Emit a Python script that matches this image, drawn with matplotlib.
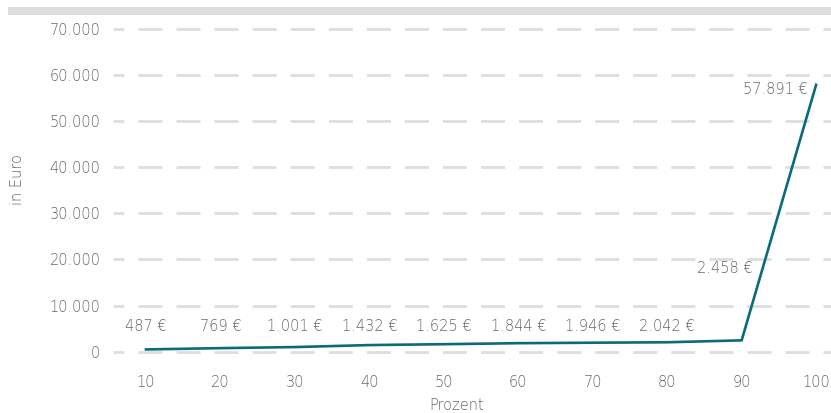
import matplotlib.pyplot as plt
from matplotlib.patches import Rectangle

# Einkommensverteilung nach Perzentil
prozent = [10, 20, 30, 40, 50, 60, 70, 80, 90, 100]
euro = [487, 769, 1001, 1432, 1625, 1844, 1946, 2042, 2458, 57891]
y_ticks = [0, 10000, 20000, 30000, 40000, 50000, 60000, 70000]

LINE = "#0b6b7c"
TEXT = "#666666"
GRID = "#dedede"
FS = 10.5

plt.rcParams['font.family'] = ['DejaVu Sans']
plt.rcParams['font.weight'] = 'light'
plt.rcParams['axes.labelweight'] = 'light'
plt.rcParams['lines.scale_dashes'] = False


def fmt(v):
    return f"{v:,.0f}".replace(",", ".")


fig = plt.figure(figsize=(8.31, 4.13), dpi=100)
fig.patches.append(Rectangle((8 / 831, 1 - 14.5 / 413), 823 / 831, 7.5 / 413,
                             transform=fig.transFigure, color=GRID, lw=0))

ax = fig.add_axes([113 / 831, 52.1 / 413, 718 / 831, 341.1 / 413])
ax.set_xlim(5.57, 102.0)
ax.set_ylim(-2000, 72000)

for t in y_ticks:
    ax.axhline(t, color=GRID, lw=2.0, linestyle=(9.4, (17.3, 10.1)),
               dash_capstyle='butt', zorder=0)

ax.plot(prozent, euro, color=LINE, lw=1.9, solid_joinstyle='miter', zorder=3)

# Beschriftung der Werte
for x, v in zip(prozent[:8], euro[:8]):
    ax.text(x, 5360, f"{fmt(v)} €", ha='center', va='center', color=TEXT, fontsize=FS)
ax.annotate(f"{fmt(euro[8])} €", (prozent[8], euro[8]), xytext=(8, 52),
            textcoords='offset points', ha='right', va='center', color=TEXT, fontsize=FS)
ax.annotate(f"{fmt(euro[9])} €", (prozent[9], euro[9]), xytext=(-6, -3),
            textcoords='offset points', ha='right', va='center', color=TEXT, fontsize=FS)

ax.set_xticks(prozent)
ax.set_xticklabels([str(p) for p in prozent])
ax.set_yticks(y_ticks)
ax.set_yticklabels([fmt(t) for t in y_ticks])
ax.tick_params(length=0, labelsize=FS, labelcolor=TEXT)
ax.tick_params(axis='x', pad=10)
ax.tick_params(axis='y', pad=9)
for s in ax.spines.values():
    s.set_visible(False)

ax.set_xlabel("Prozent", color=TEXT, fontsize=FS)
ax.set_ylabel("in Euro", color=TEXT, fontsize=FS)
ax.xaxis.set_label_coords((457 - 113) / 718, -(405 - 360.9) / 341.1)
ax.xaxis.label.set_va('center')
ax.yaxis.set_label_coords(-95 / 718, (413 - 180 - 52.1) / 341.1)
ax.yaxis.label.set_va('center')

fig.savefig("out.png", dpi=100)
